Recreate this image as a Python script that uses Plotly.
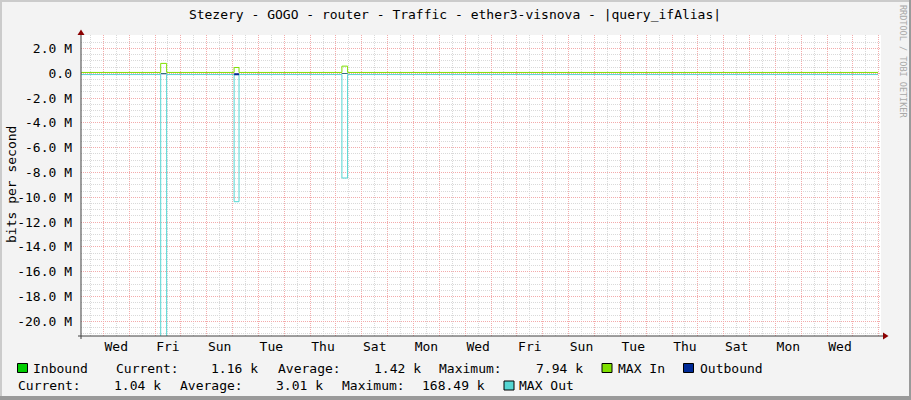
import plotly.graph_objects as go

# ---------------- data ----------------
# time in days, 0 = Wednesday 00:00 (first full day shown)
t_days = [-0.86, 2.22, 2.45, 5.06, 5.25, 9.23, 9.45, 29.97]
# bits per second
inbound = [1200, 7940, 1200, 5200, 1200, 6100, 1160, 1160]
max_in = [60000, 790000, 60000, 460000, 60000, 570000, 60000, 60000]
outbound = [-1000, -80000, -1000, -168490, -1000, -60000, -1040, -1040]
max_out = [-110000, -23500000, -110000, -10360000, -110000, -8450000, -110000, -110000]

y_tick_vals = [2e6, 0, -2e6, -4e6, -6e6, -8e6, -10e6, -12e6, -14e6, -16e6, -18e6, -20e6]
y_tick_text = ["2.0 M", "0.0", "-2.0 M", "-4.0 M", "-6.0 M", "-8.0 M", "-10.0 M",
               "-12.0 M", "-14.0 M", "-16.0 M", "-18.0 M", "-20.0 M"]
x_label_days = [0.5, 2.5, 4.5, 6.5, 8.5, 10.5, 12.5, 14.5, 16.5, 18.5, 20.5, 22.5, 24.5, 26.5, 28.5]
x_label_text = ["Wed", "Fri", "Sun", "Tue", "Thu", "Sat", "Mon", "Wed", "Fri", "Sun",
                "Tue", "Thu", "Sat", "Mon", "Wed"]

series_names = ["Inbound", "MAX In", "Outbound", "MAX Out"]
series_colors = ["#00CC00", "#7FE000", "#002A97", "#55D6D3"]
in_stats = ["1.16 k", "1.42 k", "7.94 k"]
out_stats = ["1.04 k", "3.01 k", "168.49 k"]

title_text = "Stezery - GOGO - router - Traffic - ether3-visnova - |query_ifAlias|"

# ---------------- layout geometry ----------------
W, H = 911, 400
ML, MR, MT, MB = 81, 30, 35, 64
PW, PH = W - ML - MR, H - MT - MB
X_RANGE = [-0.863, 30.085]
Y_RANGE = [-21.19e6, 3.08e6]
FONT = "DejaVu Sans Mono"


def px(x):
    return (x - ML) / PW


def py(y):
    return (H - MB - y) / PH


fig = go.Figure()

# inbound area on the label axis (x2, matched range) so that axis is drawn
fig.add_trace(go.Scatter(x=t_days, y=inbound, mode="lines", line=dict(shape="hv", width=0),
                         fill="tozeroy", fillcolor=series_colors[0], name=series_names[0],
                         hoverinfo="skip", xaxis="x2", yaxis="y"))
fig.add_trace(go.Scatter(x=t_days, y=max_out, mode="lines",
                         line=dict(shape="hv", width=1, color=series_colors[3]),
                         name=series_names[3], hoverinfo="skip"))
fig.add_trace(go.Scatter(x=t_days, y=outbound, mode="lines", line=dict(shape="hv", width=0),
                         fill="tozeroy", fillcolor=series_colors[2], name=series_names[2],
                         hoverinfo="skip"))
fig.add_trace(go.Scatter(x=t_days, y=max_in, mode="lines",
                         line=dict(shape="hv", width=1, color=series_colors[1]),
                         name=series_names[1], hoverinfo="skip"))

grid_major = "#F3ABAB"
grid_minor = "#D9D9D9"

fig.update_layout(
    width=W, height=H,
    margin=dict(l=ML, r=MR, t=MT, b=MB, pad=0, autoexpand=False),
    paper_bgcolor="#F3F3F3",
    plot_bgcolor="#FFFFFF",
    showlegend=False,
    font=dict(family=FONT, size=13, color="#000000"),
    title=dict(text=title_text, x=455 / W, xanchor="center", y=1 - 14 / H, yanchor="middle",
               font=dict(family=FONT, size=13, color="#000000")),
    xaxis=dict(range=X_RANGE, tickmode="linear", tick0=0, dtick=1, showticklabels=False,
               ticks="", showgrid=True, gridcolor=grid_major, griddash="1px,1px", gridwidth=1,
               zeroline=False, showline=False,
               minor=dict(tickmode="linear", tick0=0, dtick=0.5, showgrid=True,
                          gridcolor=grid_minor, griddash="1px,1px", gridwidth=1, ticks="")),
    xaxis2=dict(range=X_RANGE, overlaying="x", anchor="y", side="bottom",
                tickmode="array", tickvals=x_label_days, ticktext=x_label_text,
                showgrid=False, zeroline=False, ticks="", showline=False,
                tickfont=dict(family=FONT, size=13, color="#000000"), ticklabelstandoff=1),
    yaxis=dict(range=Y_RANGE, tickmode="array", tickvals=y_tick_vals, ticktext=y_tick_text,
               ticks="", showgrid=True, gridcolor=grid_major, griddash="1px,1px", gridwidth=1,
               zeroline=False, showline=False, ticklabelstandoff=8,
               tickfont=dict(family=FONT, size=13, color="#000000"),
               minor=dict(tickmode="linear", tick0=0, dtick=0.5e6, showgrid=True,
                          gridcolor=grid_minor, griddash="1px,1px", gridwidth=1, ticks="")),
)

shapes = []
# frame around the image
shapes.append(dict(type="rect", xref="paper", yref="paper", x0=px(0), x1=px(W), y0=py(0), y1=py(2),
                   fillcolor="#CBCBCB", line=dict(width=0), layer="above"))
shapes.append(dict(type="rect", xref="paper", yref="paper", x0=px(0), x1=px(2), y0=py(0), y1=py(H),
                   fillcolor="#CBCBCB", line=dict(width=0), layer="above"))
shapes.append(dict(type="rect", xref="paper", yref="paper", x0=px(W - 2), x1=px(W), y0=py(0), y1=py(H),
                   fillcolor="#9A9A9A", line=dict(width=0), layer="above"))
shapes.append(dict(type="rect", xref="paper", yref="paper", x0=px(0), x1=px(W), y0=py(H - 4), y1=py(H),
                   fillcolor="#9A9A9A", line=dict(width=0), layer="above"))
# axis lines
shapes.append(dict(type="line", xref="paper", yref="paper", x0=px(78), x1=px(884), y0=py(336), y1=py(336),
                   line=dict(color="#404040", width=1), layer="above"))
shapes.append(dict(type="line", xref="paper", yref="paper", x0=px(81), x1=px(81), y0=py(339), y1=py(31),
                   line=dict(color="#404040", width=1), layer="above"))
# arrows
shapes.append(dict(type="path", xref="paper", yref="paper",
                   path=f"M {px(883)},{py(332.5)} L {px(888.5)},{py(336)} L {px(883)},{py(339.5)} Z",
                   fillcolor="#8B0000", line=dict(width=0), layer="above"))
shapes.append(dict(type="path", xref="paper", yref="paper",
                   path=f"M {px(77.5)},{py(35)} L {px(81)},{py(29.5)} L {px(84.5)},{py(35)} Z",
                   fillcolor="#8B0000", line=dict(width=0), layer="above"))

annotations = []
TEXT_DX = -3  # compensate annotation padding


def text_at(x, y, s, **kw):
    dx = TEXT_DX if kw.get("xanchor", "left") == "left" else 0
    annotations.append(dict(xref="paper", yref="paper", x=px(x + dx), y=py(y), text=s, showarrow=False,
                            xanchor=kw.get("xanchor", "left"), yanchor="middle",
                            textangle=kw.get("angle", 0),
                            font=dict(family=FONT, size=kw.get("size", 13),
                                      color=kw.get("color", "#000000"))))


def box_at(x, y, color):
    shapes.append(dict(type="rect", xref="paper", yref="paper", x0=px(x), x1=px(x + 10),
                       y0=py(y - 4.5), y1=py(y + 4.5), fillcolor=color,
                       line=dict(color="#000000", width=1), layer="above"))


# y axis title and watermark
text_at(11, 185, "bits per second", xanchor="center", angle=-90)
text_at(903, 61, "RRDTOOL / TOBI OETIKER", xanchor="center", angle=90, size=8.5, color="#A8A8A8")

# legend row 1
r1, r2 = 368, 385.5
box_at(17.5, r1, series_colors[0])
text_at(34, r1, series_names[0])
text_at(116.5, r1, "Current:")
text_at(212, r1, in_stats[0])
text_at(279, r1, "Average:")
text_at(375, r1, in_stats[1])
text_at(440, r1, "Maximum:")
text_at(537, r1, in_stats[2])
box_at(602, r1, series_colors[1])
text_at(619, r1, series_names[1])
box_at(683.5, r1, series_colors[2])
text_at(700.5, r1, series_names[2])
# legend row 2
text_at(18.5, r2, "Current:")
text_at(114.7, r2, out_stats[0])
text_at(181.4, r2, "Average:")
text_at(277, r2, out_stats[1])
text_at(342.7, r2, "Maximum:")
text_at(422.7, r2, out_stats[2])
box_at(504, r2, series_colors[3])
text_at(520, r2, series_names[3])

fig.update_layout(shapes=shapes, annotations=annotations)

fig.write_html("out.html", config={"displayModeBar": False},
               post_script="document.body.style.margin='0px';document.body.style.overflow='hidden';")
